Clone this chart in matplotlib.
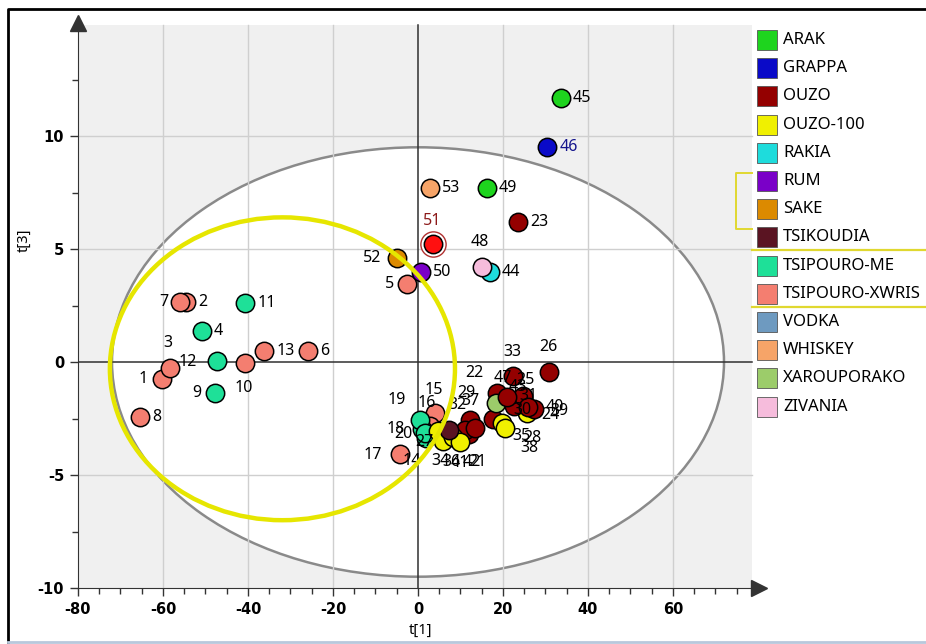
import matplotlib.pyplot as plt
from matplotlib.patches import Ellipse, Rectangle
from matplotlib.lines import Line2D

plt.rcParams['font.family'] = ['Noto Sans', 'DejaVu Sans']
plt.rcParams['axes.unicode_minus'] = False

# score values t[1] / t[3] for the 53 samples
ids = [1, 2, 3, 4, 5, 6, 7, 8, 9, 10,
       11, 12, 13, 14, 15, 16, 17, 18, 19, 20,
       21, 22, 23, 24, 25, 26, 27, 28, 29, 30,
       31, 32, 33, 34, 35, 36, 37, 38, 39, 40,
       41, 42, 43, 44, 45, 46, 47, 48, 49, 50,
       51, 52, 53]
t1 = [-60.3, -54.6, -58.4, -50.9, -2.6, -25.8, -56.0, -65.4, -47.8, -40.7,
      -40.6, -47.2, -36.2, 1.8, 4.0, 2.8, -4.2, 0.9, 0.5, 1.6,
      12.0, 18.6, 23.5, 25.6, 24.2, 30.8, 4.8, 17.6, 12.2, 22.6,
      24.6, 11.1, 22.4, 5.9, 19.8, 8.2, 13.4, 20.5, 27.4, 26.0,
      9.8, 7.2, 18.4, 16.9, 33.6, 30.4, 21.0, 15.1, 16.2, 0.7,
      3.5, -4.9, 2.8]
t3 = [-0.77, 2.67, -0.28, 1.37, 3.45, 0.50, 2.67, -2.42, -1.36, -0.06,
      2.62, 0.04, 0.50, -3.35, -2.25, -2.85, -4.05, -2.95, -2.55, -3.15,
      -3.20, -1.35, 6.20, -2.26, -1.70, -0.44, -3.05, -2.50, -2.55, -1.95,
      -1.50, -3.00, -0.62, -3.50, -2.70, -3.30, -2.90, -2.90, -2.10, -2.00,
      -3.55, -3.00, -1.83, 4.00, 11.70, 9.50, -1.55, 4.20, 7.70, 4.00,
      5.20, 4.60, 7.70]
groups = ['XW', 'XW', 'XW', 'ME', 'XW', 'XW', 'XW', 'XW', 'ME', 'XW',
          'ME', 'ME', 'XW', 'ME', 'XW', 'XW', 'XW', 'ME', 'ME', 'ME',
          'OUZO', 'OUZO', 'OUZO', 'O100', 'OUZO', 'OUZO', 'O100', 'OUZO', 'OUZO', 'OUZO',
          'OUZO', 'OUZO', 'OUZO', 'O100', 'O100', 'O100', 'OUZO', 'O100', 'OUZO', 'OUZO',
          'O100', 'TSIK', 'XAR', 'RAKIA', 'ARAK', 'GRAPPA', 'OUZO', 'ZIV', 'ARAK', 'RUM',
          'SEL', 'SAKE', 'WHISKEY']

legend_names = ['ARAK', 'GRAPPA', 'OUZO', 'OUZO-100', 'RAKIA', 'RUM', 'SAKE',
                'TSIKOUDIA', 'TSIPOURO-ME', 'TSIPOURO-XWRIS', 'VODKA', 'WHISKEY',
                'XAROUPORAKO', 'ZIVANIA']

colors = {
    'ARAK': '#1ed41e', 'GRAPPA': '#0a0ac8', 'OUZO': '#940000', 'O100': '#f0f000',
    'RAKIA': '#1edcdc', 'RUM': '#7a00c8', 'SAKE': '#dc8a00', 'TSIK': '#5a1422',
    'ME': '#1ee098', 'XW': '#f47e70', 'VODKA': '#6e9ac0', 'WHISKEY': '#f6a468',
    'XAR': '#9ccc6a', 'ZIV': '#f6bcdc', 'SEL': '#ff1010',
}
legend_keys = ['ARAK', 'GRAPPA', 'OUZO', 'O100', 'RAKIA', 'RUM', 'SAKE', 'TSIK',
               'ME', 'XW', 'VODKA', 'WHISKEY', 'XAR', 'ZIV']

# label offsets in pixels (dx right, dy down); default is to the right
offsets = {
    1: (-22, 0), 3: (-2, -25), 5: (-21, 0), 7: (-20, 0), 9: (-21, 0), 10: (-1, 25),
    12: (-28, 1), 52: (-24, 0), 51: (-1, -23), 48: (-2, -25),
    19: (-22, -20), 18: (-25, 0), 20: (-20, 1), 15: (-1, -23), 16: (-3, -23),
    17: (-26, 1), 14: (-14, 23), 27: (-14, 11), 34: (-3, 20), 36: (-1, 25),
    41: (0, 21), 42: (14, 32), 21: (8, 28), 29: (-3, -27), 37: (-5, -27), 32: (-8, -25),
    22: (-22, -20), 47: (-4, -19), 33: (-1, -24), 26: (-1, -25), 40: (17, 0),
    39: (16, 2), 24: (14, 2), 25: (5, -20), 30: (8, 4), 31: (6, 0), 38: (15, 20),
    35: (10, 13), 28: (30, 19), 43: (12, -16),
}
label_colors = {46: '#14148c', 51: '#8c1a1a'}

W, H = 926, 644
fig = plt.figure(figsize=(W / 100, H / 100), dpi=100)

# axes placed so that t[1]=-80 sits at x=78 px and t[3]=-10 at y=588 px
x_lo, x_hi = -80, 81.0
y_lo, y_hi = -10, 15.4
px_x = 4.25
px_y = 22.6
ax_left = 418 - 80 * px_x
ax_w = (x_hi - x_lo) * px_x
ax_bottom = 362 + 10 * px_y
ax_h = (y_hi - y_lo) * px_y
ax = fig.add_axes([ax_left / W, (H - ax_bottom) / H, ax_w / W, ax_h / H])
ax.set_xlim(x_lo, x_hi)
ax.set_ylim(y_lo, y_hi)

# grey background and white confidence ellipse
ax.add_patch(Rectangle((-80, -10), 78.5 + 80, 14.9 + 10, facecolor='#f0f0f0',
                       edgecolor='none', zorder=0))
ax.add_patch(Ellipse((0, 0), 144, 19.0, facecolor='white', edgecolor='#8a8a8a',
                     lw=1.8, zorder=1))

for gx in [-60, -40, -20, 20, 40, 60]:
    ax.plot([gx, gx], [-10, 14.9], color='#cfcfcf', lw=1, zorder=1.5)
for gy in [-5, 5, 10]:
    ax.plot([-80, 78.5], [gy, gy], color='#cfcfcf', lw=1, zorder=1.5)
ax.plot([0, 0], [-10, 14.9], color='#303030', lw=1.1, zorder=1.6)
ax.plot([-80, 78.5], [0, 0], color='#303030', lw=1.1, zorder=1.6)

# samples
for i, x, y, g in zip(ids, t1, t3, groups):
    if g == 'SEL':
        ax.scatter([x], [y], s=330, facecolor='white', edgecolor='#b03030',
                   lw=1.0, zorder=3)
    ax.scatter([x], [y], s=175, facecolor=colors[g], edgecolor='black',
               lw=1.1, zorder=3)
    dx, dy = offsets.get(i, (12, 0))
    ha = 'left' if dx >= 10 else ('right' if dx <= -15 else 'center')
    if ha == 'right':
        dx += 8
    ax.annotate(str(i), (x, y), xytext=(dx * 0.72, -dy * 0.72),
                textcoords='offset points', ha=ha, va='center', fontsize=11.5,
                color=label_colors.get(i, 'black'), zorder=4)

# yellow ring around the tsipouro group
ax.add_patch(Ellipse((-31.9, -0.3), 81.2, 13.4, facecolor='none',
                     edgecolor='#e6e600', lw=3.2, zorder=5))

# axes with arrow heads
for side in ['top', 'right']:
    ax.spines[side].set_visible(False)
ax.spines['left'].set_color('#333333')
ax.spines['bottom'].set_color('#333333')
ax.spines['left'].set_bounds(-10, 14.6)
ax.spines['bottom'].set_bounds(-80, 79.5)
ax.plot([80.3], [-10], marker='>', ms=11, color='#333333', clip_on=False, zorder=6)
ax.plot([-80], [15.0], marker='^', ms=11, color='#333333', clip_on=False, zorder=6)

xt = [-80, -60, -40, -20, 0, 20, 40, 60]
yt = [-10, -5, 0, 5, 10]
tick_font = dict(family='DejaVu Sans', fontweight='bold', fontsize=10.5)
ax.set_xticks(xt)
ax.set_xticklabels([str(v) for v in xt], **tick_font)
ax.set_xticks([v for v in range(-75, 76, 5) if v % 20], minor=True)
ax.set_yticks(yt)
ax.set_yticklabels([str(v) for v in yt], **tick_font)
ax.set_yticks([-7.5, -2.5, 2.5, 7.5, 12.5], minor=True)
ax.tick_params(which='major', length=6, width=1, color='#333333', pad=4)
ax.tick_params(which='minor', length=4, width=1, color='#333333')
ax.set_xlabel('t[1]', fontsize=10.5)
ax.set_ylabel('t[3]', fontsize=10.5)
ax.xaxis.set_label_coords(0.5, -(623 - ax_bottom) / ax_h)
ax.yaxis.set_label_coords((32 - ax_left) / ax_w, (ax_bottom - 240) / ax_h)


def fx(px):
    return px / W


def fy(py):
    return 1 - py / H


# class legend on the right
for k, (name, key) in enumerate(zip(legend_names, legend_keys)):
    cy = 40 + k * 28.2
    fig.patches.append(Rectangle((fx(757), fy(cy + 10)), 20 / W, 20 / H,
                                 facecolor=colors[key], edgecolor='#555555', lw=0.6,
                                 transform=fig.transFigure, figure=fig))
    fig.text(fx(783), fy(cy), name, fontsize=12, va='center', ha='left')

# yellow markings beside the legend
yel = '#e0d830'
fig.lines.append(Line2D([fx(752), fx(736), fx(736), fx(752)],
                        [fy(173), fy(173), fy(229), fy(229)], color=yel, lw=1.4,
                        transform=fig.transFigure))
fig.lines.append(Line2D([fx(752), fx(926)], [fy(250), fy(250)], color=yel, lw=1.6,
                        transform=fig.transFigure))
fig.lines.append(Line2D([fx(752), fx(926)], [fy(307), fy(307)], color=yel, lw=1.6,
                        transform=fig.transFigure))

# outer frame
fig.lines.append(Line2D([fx(8), fx(8), fx(926)], [fy(644), fy(9), fy(9)],
                        color='black', lw=2, transform=fig.transFigure))
fig.lines.append(Line2D([fx(8), fx(926)], [fy(642), fy(642)], color='#b8c8dc',
                        lw=2, transform=fig.transFigure))

fig.savefig('out.png', dpi=100)
